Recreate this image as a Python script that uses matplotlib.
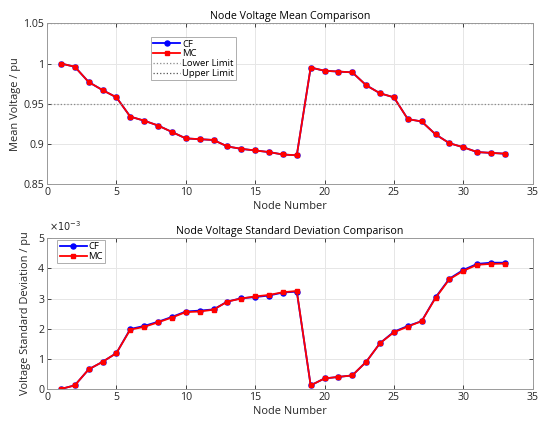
import numpy as np
import matplotlib.pyplot as plt

plt.rcParams['font.family'] = ['Open Sans', 'DejaVu Sans']

# node numbers
nodes = np.arange(1, 34)

# mean voltage (pu), CF and MC practically identical
mean_cf = [1.000, 0.996, 0.977, 0.967, 0.958, 0.934, 0.929, 0.923, 0.915, 0.907,
           0.906, 0.905, 0.897, 0.894, 0.892, 0.890, 0.887, 0.886, 0.995, 0.991,
           0.990, 0.989, 0.973, 0.963, 0.958, 0.931, 0.928, 0.912, 0.901, 0.896,
           0.890, 0.889, 0.888]
mean_mc = [1.000, 0.996, 0.977, 0.967, 0.958, 0.934, 0.929, 0.923, 0.915, 0.907,
           0.906, 0.905, 0.897, 0.894, 0.892, 0.890, 0.887, 0.886, 0.995, 0.991,
           0.990, 0.989, 0.973, 0.963, 0.958, 0.931, 0.928, 0.912, 0.901, 0.896,
           0.890, 0.889, 0.888]

# standard deviation (x1e-3 pu)
std_cf = [0.00, 0.12, 0.65, 0.90, 1.19, 1.99, 2.09, 2.23, 2.39, 2.57,
          2.60, 2.64, 2.90, 3.01, 3.05, 3.10, 3.20, 3.23, 0.12, 0.35,
          0.40, 0.45, 0.90, 1.52, 1.90, 2.09, 2.25, 3.04, 3.66, 3.95,
          4.15, 4.19, 4.19]
std_mc = [0.00, 0.12, 0.65, 0.90, 1.19, 1.97, 2.06, 2.21, 2.37, 2.55,
          2.57, 2.63, 2.90, 3.00, 3.07, 3.12, 3.21, 3.25, 0.12, 0.35,
          0.40, 0.45, 0.90, 1.52, 1.88, 2.07, 2.25, 3.02, 3.64, 3.92,
          4.12, 4.15, 4.16]

lower_limit = 0.95
upper_limit = 1.05

axc = '#262626'
tfs = 7.6
lfs = 7.9

fig = plt.figure(figsize=(5.5, 4.26), dpi=100)
ax1 = fig.add_axes([0.0855, 0.5674, 0.883, 0.378])
ax2 = fig.add_axes([0.0855, 0.0869, 0.883, 0.3538])


def style(ax, xlab_y):
    ax.set_xlim(0, 35)
    ax.set_xticks(np.arange(0, 36, 5))
    ax.grid(True, color='#e6e6e6', linewidth=0.7)
    ax.set_axisbelow(True)
    ax.tick_params(direction='in', length=3, width=0.6, colors=axc,
                   labelsize=tfs, top=True, right=True, pad=2,
                   labeltop=False, labelright=False)
    for s in ax.spines.values():
        s.set_color('#9a9a9a')
        s.set_linewidth(0.7)
    ax.set_xlabel('Node Number', fontsize=lfs, color=axc)
    ax.xaxis.set_label_coords(0.5, xlab_y)


def add_legend(ax, anchor):
    leg = ax.legend(loc='upper left', bbox_to_anchor=anchor, fontsize=6.8,
                    frameon=True, fancybox=False, edgecolor='#9a9a9a',
                    handlelength=2.9, handletextpad=0.15, borderpad=0.25,
                    labelspacing=0.08, borderaxespad=0)
    leg.get_frame().set_linewidth(0.7)
    return leg


# top panel
ax1.plot(nodes, mean_cf, '-o', color='blue', lw=1.3, ms=3.6,
         markerfacecolor='blue', label='CF')
ax1.plot(nodes, mean_mc, '-s', color='red', lw=1.3, ms=3.4,
         markerfacecolor='red', label='MC')
ax1.axhline(lower_limit, color='#8a8a8a', ls=':', lw=0.9, label='Lower Limit')
ax1.axhline(upper_limit, color='#555555', ls=':', lw=0.9, label='Upper Limit')
ax1.set_ylim(0.85, 1.05)
ax1.set_yticks([0.85, 0.9, 0.95, 1.0, 1.05])
ax1.set_yticklabels(['0.85', '0.9', '0.95', '1', '1.05'])
style(ax1, -0.106)
ax1.set_ylabel('Mean Voltage / pu', fontsize=lfs, color=axc)
ax1.yaxis.set_label_coords(-0.054, 0.5)
ax1.set_title('Node Voltage Mean Comparison', fontsize=7.7, color='black', pad=3)
add_legend(ax1, (0.2135, 0.913))

# bottom panel
ax2.plot(nodes, std_cf, '-o', color='blue', lw=1.3, ms=3.6,
         markerfacecolor='blue', label='CF')
ax2.plot(nodes, std_mc, '-s', color='red', lw=1.3, ms=3.4,
         markerfacecolor='red', label='MC')
ax2.set_ylim(0, 5)
ax2.set_yticks(np.arange(0, 6, 1))
style(ax2, -0.113)
ax2.set_ylabel('Voltage Standard Deviation / pu', fontsize=lfs, color=axc)
ax2.yaxis.set_label_coords(-0.034, 0.5)
ax2.set_title('Node Voltage Standard Deviation Comparison', fontsize=7.7,
              color='black', pad=3)
ax2.text(0.004, 1.025, r'$\times 10^{-3}$', transform=ax2.transAxes, fontsize=7,
         color=axc, ha='left', va='bottom')
add_legend(ax2, (0.0212, 0.989))

fig.savefig('out.png', dpi=100, facecolor='white')
